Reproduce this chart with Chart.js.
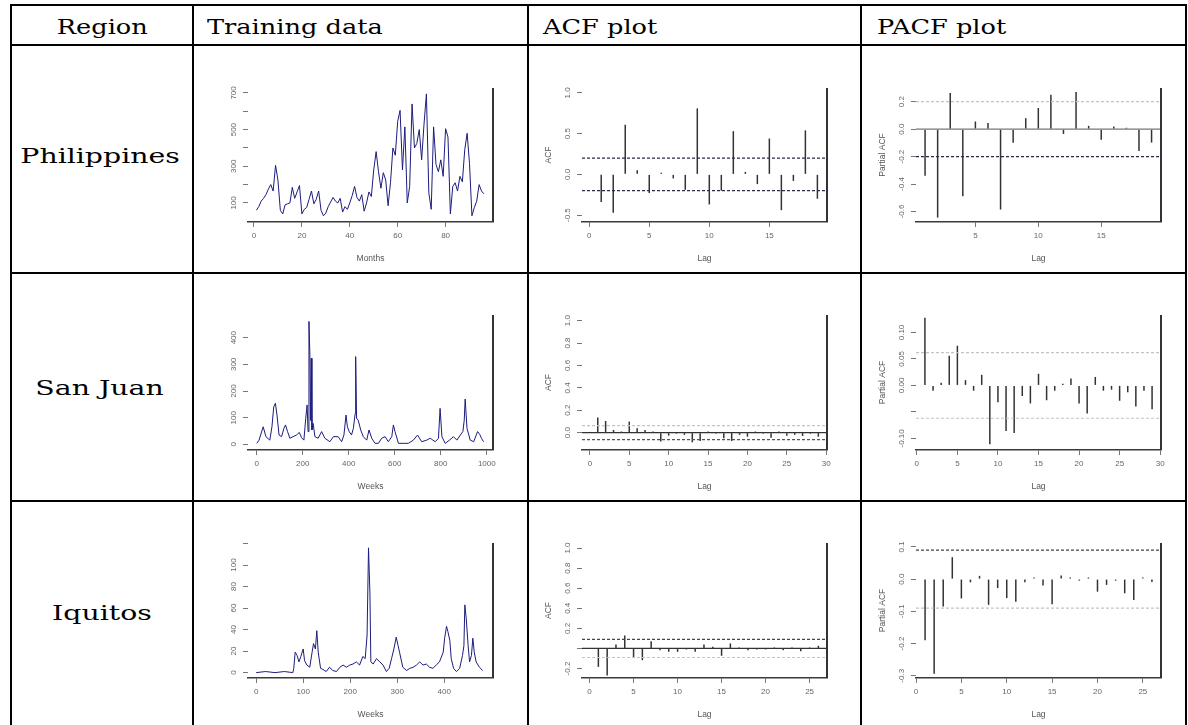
<!DOCTYPE html>
<html lang="en">
<head>
<meta charset="utf-8" />
<title>Training data, ACF and PACF by region</title>
<style>
  body { margin: 0; background: #fff; }
  #page { position: relative; width: 1188px; height: 725px; overflow: hidden; background: #fff; }
  .rule { position: absolute; background: #000; }
  .lbl { position: absolute; font-family: 'DejaVu Serif', serif; font-size: 21px; line-height: 21px; white-space: nowrap; color: #000; }
  .lbl span { display: inline-block; transform: scaleX(1.22); transform-origin: left center; }
  .lbl.mid { width: 300px; text-align: center; }
  .lbl.mid span { transform-origin: center center; }
  .lbl.row span { transform: scaleX(1.35); }
  canvas { position: absolute; }
</style>
</head>
<body>
<div id="page"></div>
<script src="https://cdn.jsdelivr.net/npm/chart.js@4.4.1/dist/chart.umd.min.js"></script>
<script>
// ---- data ----

// Philippines, monthly cases, months 1..96
const phCases = [60, 80, 110, 125, 145, 175, 200, 165, 305, 225,
  60, 40, 90, 95, 100, 185, 125, 160, 195, 40,
  65, 75, 120, 165, 95, 120, 165, 60, 30, 45,
  80, 105, 130, 110, 100, 125, 50, 80, 65, 100,
  140, 190, 130, 110, 145, 55, 100, 160, 135, 280,
  380, 270, 180, 265, 225, 85, 210, 400, 360, 545,
  605, 280, 515, 100, 190, 640, 400, 425, 500, 335,
  530, 695, 155, 65, 515, 310, 270, 335, 245, 505,
  460, 40, 190, 210, 165, 245, 215, 390, 480, 315,
  30, 75, 110, 200, 165, 150];

// San Juan, weekly cases
const sjWeeks = [0, 10, 28, 40, 57, 66, 74, 81, 88, 97, 108, 118, 125, 134, 144, 158, 173, 185, 195, 205,
  213, 219, 223, 227, 231, 234, 237, 240, 245, 253, 267, 282, 296, 318, 333, 354, 369, 379, 388, 394,
  402, 412, 420, 428, 430, 434, 441, 452, 463, 478, 488, 500, 514, 529, 543, 558, 572, 587, 594, 601,
  616, 638, 659, 681, 699, 717, 739, 754, 776, 790, 797, 805, 819, 838, 855, 870, 885, 896, 902, 906,
  914, 928, 943, 960, 969, 977, 986];
const sjCases = [4, 16, 66, 29, 16, 66, 141, 154, 110, 35, 29, 60, 73, 48, 23, 29, 35, 45, 25, 16,
  98, 148, 48, 461, 335, 90, 323, 54, 79, 29, 23, 48, 23, 10, 29, 29, 10, 35, 110, 66,
  48, 35, 60, 116, 329, 98, 91, 54, 29, 16, 54, 23, 4, 4, 23, 29, 10, 29, 73, 48,
  4, 4, 4, 16, 35, 10, 16, 23, 10, 23, 135, 29, 4, 16, 29, 16, 35, 48, 91, 170,
  60, 16, 10, 48, 38, 23, 10];

// Iquitos, weekly cases
const iqWeeks = [0, 20, 40, 60, 78, 80, 83, 87, 91, 95, 100, 103, 108, 114, 119, 122, 126, 129, 132, 137,
  142, 149, 156, 163, 171, 178, 185, 192, 199, 206, 213, 220, 227, 232, 236, 239, 242, 244, 249, 256,
  263, 270, 277, 283, 288, 293, 298, 302, 305, 312, 320, 327, 334, 341, 348, 355, 362, 369, 376, 383,
  390, 398, 401, 405, 408, 412, 415, 420, 426, 433, 439, 442, 444, 447, 451, 454, 458, 461, 464, 468,
  475, 482];
const iqCases = [0, 1, 0, 1, 0, 4, 19, 16, 10, 15, 22, 11, 7, 5, 19, 27, 22, 39, 19, 4,
  3, 1, 5, 2, 1, 5, 7, 5, 7, 8, 10, 7, 15, 13, 35, 116, 74, 10, 8, 13,
  10, 7, 1, 4, 13, 22, 33, 25, 19, 5, 2, 4, 5, 7, 10, 7, 8, 5, 4, 7,
  10, 19, 32, 43, 38, 30, 13, 4, 1, 4, 16, 25, 63, 50, 25, 10, 16, 32, 19, 10,
  5, 2];

// autocorrelations, lag 1 onwards
const phAcf = [-0.34, -0.47, 0.61, 0.05, -0.23, 0.02, -0.05, -0.19, 0.81, -0.37,
  -0.2, 0.53, 0.03, -0.12, 0.44, -0.44, -0.08, 0.54, -0.30];
const phPacf = [-0.34, -0.645, 0.264, -0.49, 0.056, 0.044, -0.586, -0.1, 0.08, 0.154,
  0.25, -0.035, 0.27, 0.024, -0.078, 0.02, 0.01, -0.16, -0.098];
const sjAcf = [0.134, 0.104, 0.024, 0.01, 0.098, 0.039, 0.024, 0.01, -0.08, -0.027,
  -0.01, -0.02, -0.086, -0.074, 0.01, -0.01, -0.05, -0.074, -0.02, -0.036,
  0.01, -0.01, -0.045, 0.01, -0.027, -0.02, -0.03, -0.01, -0.036];
const sjPacf = [0.128, -0.01, 0.005, 0.056, 0.075, 0.01, -0.01, 0.02, -0.111, -0.032,
  -0.086, -0.09, -0.02, -0.034, 0.022, -0.028, -0.01, 0.003, 0.013, -0.034,
  -0.053, 0.016, -0.01, -0.008, -0.029, -0.013, -0.04, -0.01, -0.045];
const iqAcf = [-0.183, -0.27, 0.04, 0.13, -0.093, -0.117, 0.073, -0.017, -0.033, -0.033,
  -0.01, -0.033, 0.04, 0.017, -0.073, 0.05, 0.01, -0.017, -0.01, -0.01,
  0.01, -0.017, 0.01, -0.027, 0.01, 0.027];
const iqPacf = [-0.19, -0.294, -0.085, 0.068, -0.06, -0.01, 0.01, -0.08, -0.028, -0.059,
  -0.07, -0.01, 0.005, -0.02, -0.078, 0.011, 0.005, -0.005, 0.005, -0.039,
  -0.018, -0.005, -0.044, -0.065, 0.005, -0.009];

// confidence bounds
const phBound = 0.2, sjBound = 0.062, iqBound = 0.09;

// tick values and labels
const phTrainXTicks = [0, 20, 40, 60, 80];
const phTrainYTicks = [100, 200, 300, 400, 500, 600, 700];
const phTrainYLabels = ['100', '', '300', '', '500', '', '700'];
const sjTrainXTicks = [0, 200, 400, 600, 800, 1000];
const sjTrainYTicks = [0, 100, 200, 300, 400];
const sjTrainYLabels = ['0', '100', '200', '300', '400'];
const iqTrainXTicks = [0, 100, 200, 300, 400];
const iqTrainYTicks = [0, 20, 40, 60, 80, 100, 120];
const iqTrainYLabels = ['0', '20', '40', '60', '80', '100', ''];
const phAcfXTicks = [0, 5, 10, 15];
const phAcfYTicks = [-0.5, 0, 0.5, 1];
const phAcfYLabels = ['-0.5', '0.0', '0.5', '1.0'];
const phPacfXTicks = [5, 10, 15];
const phPacfYTicks = [-0.6, -0.4, -0.2, 0, 0.2];
const phPacfYLabels = ['-0.6', '-0.4', '-0.2', '0.0', '0.2'];
const sjAcfXTicks = [0, 5, 10, 15, 20, 25, 30];
const sjAcfYTicks = [0, 0.2, 0.4, 0.6, 0.8, 1];
const sjAcfYLabels = ['0.0', '0.2', '0.4', '0.6', '0.8', '1.0'];
const sjPacfXTicks = [0, 5, 10, 15, 20, 25, 30];
const sjPacfYTicks = [-0.1, -0.05, 0, 0.05, 0.1];
const sjPacfYLabels = ['-0.10', '', '0.00', '0.05', '0.10'];
const iqAcfXTicks = [0, 5, 10, 15, 20, 25];
const iqAcfYTicks = [-0.2, 0, 0.2, 0.4, 0.6, 0.8, 1];
const iqAcfYLabels = ['-0.2', '', '0.2', '0.4', '0.6', '0.8', '1.0'];
const iqPacfXTicks = [0, 5, 10, 15, 20, 25];
const iqPacfYTicks = [-0.3, -0.2, -0.1, 0, 0.1];
const iqPacfYLabels = ['-0.3', '-0.2', '-0.1', '0.0', '0.1'];

const headers = ['Region', 'Training data', 'ACF plot', 'PACF plot'];
const regions = ['Philippines', 'San Juan', 'Iquitos'];

// ---- table ----
const page = document.getElementById('page');

function rule(x, y, w, h) {
  const d = document.createElement('div');
  d.className = 'rule';
  Object.assign(d.style, { left: x + 'px', top: y + 'px', width: w + 'px', height: h + 'px' });
  page.appendChild(d);
}
[4, 44, 272, 500].forEach(y => rule(10, y, 1177, 2));
[10, 192, 527, 860, 1185].forEach(x => rule(x, 4, 2, 730));

function label(text, x, baseline, cls) {
  const d = document.createElement('div');
  d.className = 'lbl ' + cls;
  d.style.left = (cls ? x - 150 : x) + 'px';
  d.style.top = (baseline - 17.8) + 'px';
  const s = document.createElement('span');
  s.textContent = text;
  d.appendChild(s);
  page.appendChild(d);
}
label(headers[0], 102, 35, 'mid');
label(headers[1], 207, 35, '');
label(headers[2], 543, 35, '');
label(headers[3], 877, 35, '');
label(regions[0], 100, 164, 'mid row');
label(regions[1], 100, 396, 'mid row');
label(regions[2], 102, 621, 'mid row');

// ---- plots ----
const fam = "'Liberation Sans', Arial, sans-serif";
const meas = document.createElement('canvas').getContext('2d');
meas.font = '8px ' + fam;
const widest = arr => Math.max(0, ...arr.map(t => meas.measureText(t).width));

const rightEdge = {
  id: 'rightEdge',
  afterDatasetsDraw(chart) {
    const { ctx, chartArea: a } = chart;
    ctx.save();
    ctx.strokeStyle = '#333';
    ctx.lineWidth = 2;
    ctx.beginPath();
    ctx.moveTo(a.right, a.top);
    ctx.lineTo(a.right, a.bottom);
    ctx.stroke();
    ctx.restore();
  }
};

const DARK = '#2b2b45', LIGHT = '#c4c4c8';

function hline(y, x0, x1, color, dash) {
  return {
    type: 'line', data: [{ x: x0, y: y }, { x: x1, y: y }],
    borderColor: color, borderWidth: 1.2, borderDash: dash || [], pointRadius: 0
  };
}

function panel(o) {
  const [pl, pr] = o.cols, [pt, pb] = o.rows;
  const YW = 38, PT = 14, PR = 12, XH = 42;
  const cv = document.createElement('canvas');
  const W = YW + (pr - pl) + PR, H = PT + (pb - pt) + XH;
  cv.width = W; cv.height = H;
  Object.assign(cv.style, { left: (pl - YW) + 'px', top: (pt - PT) + 'px', width: W + 'px', height: H + 'px' });
  page.appendChild(cv);

  const yPad = Math.max(0, 9 - widest(o.yLabels.filter(Boolean)) / 2);
  const tickFont = { family: fam, size: 8 };
  const titleFont = { family: fam, size: 8.5 };

  new Chart(cv, {
    type: o.type,
    data: { datasets: o.datasets },
    options: {
      responsive: false,
      animation: false,
      devicePixelRatio: 1,
      layout: { padding: { left: 0, top: PT, right: PR, bottom: 0 } },
      plugins: { legend: { display: false }, tooltip: { enabled: false } },
      scales: {
        x: {
          type: 'linear', min: o.xRange[0], max: o.xRange[1], offset: false,
          afterBuildTicks: s => { s.ticks = o.xTicks.map(v => ({ value: v })); },
          afterFit: s => { s.height = XH; },
          ticks: { autoSkip: false, maxRotation: 0, padding: 4, font: tickFont, color: '#666',
            callback: (v, i) => String(o.xTicks[i]) },
          grid: { offset: false, drawOnChartArea: false, tickLength: 5, tickColor: '#777' },
          border: { display: true, color: '#3a3a3a', width: 1.5 },
          title: { display: true, text: o.xTitle, padding: 0, font: titleFont, color: '#555' }
        },
        y: {
          type: 'linear', min: o.yRange[0], max: o.yRange[1],
          afterBuildTicks: s => { s.ticks = o.yTicks.map(v => ({ value: v })); },
          afterFit: s => { s.width = YW; },
          ticks: { autoSkip: false, minRotation: 90, maxRotation: 90, crossAlign: 'center',
            padding: yPad, font: tickFont, color: '#666', callback: (v, i) => o.yLabels[i] },
          grid: { drawOnChartArea: false, tickLength: 5, tickColor: '#777' },
          border: { display: false },
          title: { display: !!o.yTitle, text: o.yTitle || '', padding: 0, font: titleFont, color: '#555' }
        }
      }
    },
    plugins: [rightEdge]
  });
}

const TRAIN = [248, 493], ACF = [582, 827], PACF = [916, 1161];
const ROW1 = [88, 222], ROW2 = [315, 450], ROW3 = [543, 678];
const NAVY = '#1c1c7e';

function series(xs, ys) {
  return [{ type: 'line', data: ys.map((v, i) => ({ x: xs[i], y: v })),
    borderColor: NAVY, borderWidth: 1, pointRadius: 0, tension: 0 }];
}

function acfSets(vals, xRange, bound, upColor, lowColor, zeroColor) {
  const sets = [
    hline(bound, xRange[0], xRange[1], upColor, [3, 2]),
    hline(-bound, xRange[0], xRange[1], lowColor, [3, 2])
  ];
  if (zeroColor) sets.push(hline(0, xRange[0], xRange[1], zeroColor));
  sets.push({ type: 'bar', data: vals.map((v, i) => ({ x: i + 1, y: v })),
    backgroundColor: '#333', borderWidth: 0, barThickness: 1.5, inflateAmount: 0 });
  return sets;
}

const phIdx = phCases.map((v, i) => i + 1);

// training data column
panel({ type: 'line', cols: TRAIN, rows: ROW1, xRange: [-2.5, 99.8], yRange: [-4, 727],
  xTicks: phTrainXTicks, yTicks: phTrainYTicks, yLabels: phTrainYLabels, xTitle: 'Months',
  datasets: series(phIdx, phCases) });
panel({ type: 'line', cols: TRAIN, rows: ROW2, xRange: [-38, 1027], yRange: [-21, 485],
  xTicks: sjTrainXTicks, yTicks: sjTrainYTicks, yLabels: sjTrainYLabels, xTitle: 'Weeks',
  datasets: series(sjWeeks, sjCases) });
panel({ type: 'line', cols: TRAIN, rows: ROW3, xRange: [-17.4, 503.9], yRange: [-5, 120.5],
  xTicks: iqTrainXTicks, yTicks: iqTrainYTicks, yLabels: iqTrainYLabels, xTitle: 'Weeks',
  datasets: series(iqWeeks, iqCases) });

// ACF column
const phAcfX = [-0.6, 19.8], sjAcfX = [-1.0, 30.1], iqAcfX = [-0.86, 26.98];
panel({ type: 'bar', cols: ACF, rows: ROW1, xRange: phAcfX, yRange: [-0.585, 1.06],
  xTicks: phAcfXTicks, yTicks: phAcfYTicks, yLabels: phAcfYLabels, xTitle: 'Lag', yTitle: 'ACF',
  datasets: acfSets(phAcf, phAcfX, phBound, DARK, DARK, null) });
panel({ type: 'bar', cols: ACF, rows: ROW2, xRange: sjAcfX, yRange: [-0.155, 1.05],
  xTicks: sjAcfXTicks, yTicks: sjAcfYTicks, yLabels: sjAcfYLabels, xTitle: 'Lag', yTitle: 'ACF',
  datasets: acfSets(sjAcf, sjAcfX, sjBound, LIGHT, '#555', '#333') });
panel({ type: 'bar', cols: ACF, rows: ROW3, xRange: iqAcfX, yRange: [-0.294, 1.05],
  xTicks: iqAcfXTicks, yTicks: iqAcfYTicks, yLabels: iqAcfYLabels, xTitle: 'Lag', yTitle: 'ACF',
  datasets: acfSets(iqAcf, iqAcfX, iqBound, '#444', LIGHT, '#333') });

// PACF column
const phPacfX = [0.28, 19.75], sjPacfX = [-0.1, 30.1], iqPacfX = [0, 27];
panel({ type: 'bar', cols: PACF, rows: ROW1, xRange: phPacfX, yRange: [-0.677, 0.30],
  xTicks: phPacfXTicks, yTicks: phPacfYTicks, yLabels: phPacfYLabels, xTitle: 'Lag', yTitle: 'Partial ACF',
  datasets: acfSets(phPacf, phPacfX, phBound, LIGHT, DARK, '#777') });
panel({ type: 'bar', cols: PACF, rows: ROW2, xRange: sjPacfX, yRange: [-0.122, 0.133],
  xTicks: sjPacfXTicks, yTicks: sjPacfYTicks, yLabels: sjPacfYLabels, xTitle: 'Lag', yTitle: 'Partial ACF',
  datasets: acfSets(sjPacf, sjPacfX, sjBound, LIGHT, LIGHT, null) });
panel({ type: 'bar', cols: PACF, rows: ROW3, xRange: iqPacfX, yRange: [-0.307, 0.112],
  xTicks: iqPacfXTicks, yTicks: iqPacfYTicks, yLabels: iqPacfYLabels, xTitle: 'Lag', yTitle: 'Partial ACF',
  datasets: acfSets(iqPacf, iqPacfX, iqBound, '#444', LIGHT, null) });
</script>
</body>
</html>
